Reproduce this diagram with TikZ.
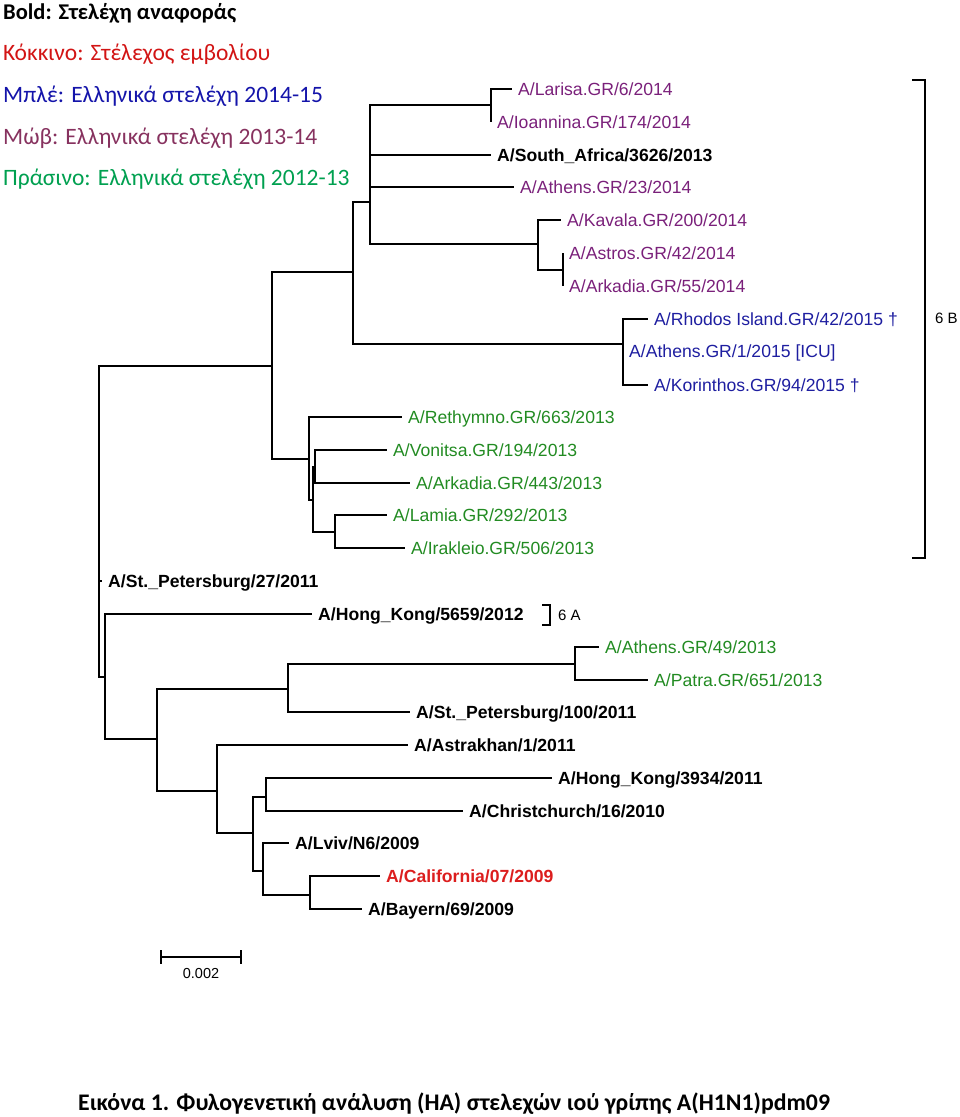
\documentclass[tikz,border=0pt]{standalone}
\usepackage{fontspec}
\usepackage{tikz}
\usetikzlibrary{positioning}
\newfontfamily\treefont{Liberation Sans}
\newfontfamily\legfont{Carlito}
\definecolor{gpurple}{RGB}{122,32,122}
\definecolor{gblue}{RGB}{30,30,160}
\definecolor{ggreen}{RGB}{34,139,34}
\definecolor{gred}{RGB}{220,30,30}
\definecolor{lred}{RGB}{210,20,20}
\definecolor{lblue}{RGB}{20,20,170}
\definecolor{lmauve}{RGB}{135,50,95}
\definecolor{lgreen}{RGB}{0,160,80}

\begin{document}
\begin{tikzpicture}[x=1pt, y=-1pt,
  br/.style={line width=1.7pt},
  brk/.style={line width=1.8pt},
  leaf/.style={anchor=west, inner xsep=6pt, inner ysep=0pt, text height=12.6pt, text depth=0pt,
    font=\treefont\fontsize{17.6}{20}\selectfont},
  ref/.style={leaf, font=\treefont\bfseries\fontsize{17.6}{20}\selectfont},
  small/.style={anchor=west, inner sep=0pt, text height=10.7pt, text depth=0pt,
    font=\treefont\fontsize{15}{18}\selectfont},
  leg/.style={anchor=west, inner sep=0pt, text height=15.1pt, text depth=0pt,
    font=\legfont\fontsize{23.5}{27}\selectfont}]
\useasboundingbox (0,0) rectangle (960,1117);

% Legend
\node[leg, text height=14.5pt, font=\legfont\bfseries\fontsize{22.5}{26}\selectfont] (leg1) at (3,12) {Bold: Στελέχη αναφοράς};
\node[leg, lred] (leg2) at (3,53) {Κόκκινο: Στέλεχος εμβολίου};
\node[leg, lblue] (leg3) at (3,95) {Μπλέ: Ελληνικά στελέχη 2014-15};
\node[leg, lmauve] (leg4) at (3,137) {Μώβ: Ελληνικά στελέχη 2013-14};
\node[leg, lgreen] (leg5) at (3,178) {Πράσινο: Ελληνικά στελέχη 2012-13};

% Internal nodes of the tree
\coordinate (root) at (99,581);
\coordinate (cTop) at (272,366);
\coordinate (c6B) at (353,272);
\coordinate (cPur) at (370,202);
\coordinate (cLI) at (491,105);
\coordinate (cKav) at (538,244);
\coordinate (cAst) at (563,270);
\coordinate (cBlue) at (623,344);
\coordinate (cGreen) at (309,459);
\coordinate (cG2) at (313,500);
\coordinate (cG3) at (315,467);
\coordinate (cG4) at (335,532);
\coordinate (cBot) at (105,677);
\coordinate (cB2) at (157,739);
\coordinate (cB3) at (288,689);
\coordinate (cB4) at (575,664);
\coordinate (cB5) at (217,791);
\coordinate (cB6) at (253,833);
\coordinate (cB7) at (266,797);
\coordinate (cB8) at (263,871);
\coordinate (cB9) at (310,895);

% Leaves: 2013-14 strains
\node[leaf, gpurple] (larisa) at (512,89) {A/Larisa.GR/6/2014};
\node[leaf, gpurple] (ioannina) at (491,122) {A/Ioannina.GR/174/2014};
\node[ref] (safrica) at (491,155) {A/South\_Africa/3626/2013};
\node[leaf, gpurple] (athens23) at (514,187) {A/Athens.GR/23/2014};
\node[leaf, gpurple] (kavala) at (561,220) {A/Kavala.GR/200/2014};
\node[leaf, gpurple] (astros) at (563,253) {A/Astros.GR/42/2014};
\node[leaf, gpurple] (arkadia55) at (563,286) {A/Arkadia.GR/55/2014};
% Leaves: 2014-15 strains
\node[leaf, gblue] (rhodos) at (648,319) {A/Rhodos Island.GR/42/2015 †};
\node[leaf, gblue] (athens1) at (623,351) {A/Athens.GR/1/2015 [ICU]};
\node[leaf, gblue] (korinthos) at (648,385) {A/Korinthos.GR/94/2015 †};
% Leaves: 2012-13 strains
\node[leaf, ggreen] (rethymno) at (402,417) {A/Rethymno.GR/663/2013};
\node[leaf, ggreen] (vonitsa) at (387,450) {A/Vonitsa.GR/194/2013};
\node[leaf, ggreen] (arkadia443) at (410,483) {A/Arkadia.GR/443/2013};
\node[leaf, ggreen] (lamia) at (387,515) {A/Lamia.GR/292/2013};
\node[leaf, ggreen] (irakleio) at (405,548) {A/Irakleio.GR/506/2013};
% Lower part of the tree
\node[ref] (stpet27) at (102,581) {A/St.\_Petersburg/27/2011};
\node[ref] (hk5659) at (312,614) {A/Hong\_Kong/5659/2012};
\node[leaf, ggreen] (athens49) at (599,647) {A/Athens.GR/49/2013};
\node[leaf, ggreen] (patra) at (648,680) {A/Patra.GR/651/2013};
\node[ref] (stpet100) at (410,712) {A/St.\_Petersburg/100/2011};
\node[ref] (astrakhan) at (408,745) {A/Astrakhan/1/2011};
\node[ref] (hk3934) at (552,778) {A/Hong\_Kong/3934/2011};
\node[ref] (christchurch) at (463,811) {A/Christchurch/16/2010};
\node[ref] (lviv) at (289,843) {A/Lviv/N6/2009};
\node[ref, gred] (california) at (380,876) {A/California/07/2009};
\node[ref] (bayern) at (362,909) {A/Bayern/69/2009};

% Branches
\foreach \p/\c in {root/cTop, root/cBot, cTop/c6B, cTop/cGreen, c6B/cPur, c6B/cBlue,
    cPur/cLI, cPur/cKav, cKav/cAst, cGreen/cG2, cG2/cG3, cG2/cG4,
    cBot/cB2, cB2/cB3, cB2/cB5, cB3/cB4, cB5/cB6, cB6/cB7, cB6/cB8, cB8/cB9}
  \draw[br] (\p) |- (\c);
\foreach \p/\c in {cLI/larisa, cLI/ioannina, cPur/safrica, cPur/athens23, cKav/kavala,
    cAst/astros, cAst/arkadia55, cBlue/rhodos, cBlue/athens1, cBlue/korinthos,
    cGreen/rethymno, cG3/vonitsa, cG3/arkadia443, cG4/lamia, cG4/irakleio,
    root/stpet27, cBot/hk5659, cB4/athens49, cB4/patra, cB3/stpet100, cB5/astrakhan,
    cB7/hk3934, cB7/christchurch, cB8/lviv, cB9/california, cB9/bayern}
  \draw[br] (\p) |- (\c.west);

% Clade brackets
\coordinate (b6Btop) at (912,80);
\coordinate (b6Bbot) at (912,558);
\draw[brk] (b6Btop) -- ++(13,0) |- (b6Bbot);
\node[small] (lab6B) at (935,318) {6 B};
\coordinate (b6Atop) at (542,605);
\coordinate (b6Abot) at (542,625);
\draw[brk] (b6Atop) -- ++(8,0) |- (b6Abot);
\node[small] (lab6A) at (558,615) {6 A};

% Scale bar
\coordinate (sbL) at (161,957);
\coordinate (sbR) at (241,957);
\draw[br] (sbL) -- (sbR);
\draw[br] ([yshift=7pt]sbL) -- ([yshift=-7pt]sbL);
\draw[br] ([yshift=7pt]sbR) -- ([yshift=-7pt]sbR);
\node[small, anchor=center, font=\treefont\fontsize{14.5}{17}\selectfont] (sbtxt) at (201,973) {0.002};

% Caption
\node[leg, text height=15.3pt, font=\legfont\bfseries\fontsize{23.8}{27}\selectfont] (caption) at (78,1103)
  {Εικόνα 1. Φυλογενετική ανάλυση (HA) στελεχών ιού γρίπης A(H1N1)pdm09};
\end{tikzpicture}
\end{document}
